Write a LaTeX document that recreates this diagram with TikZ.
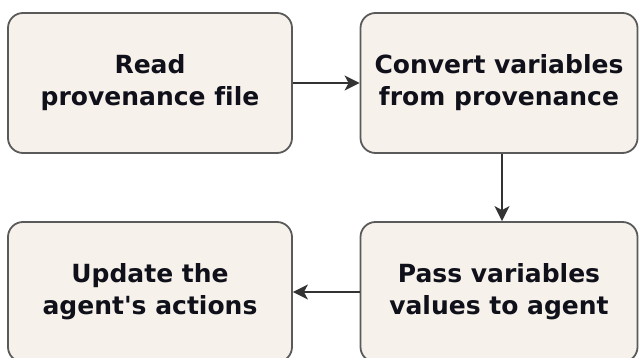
\documentclass[tikz,border=0pt]{standalone}
\usepackage{fontspec}
\setmainfont[Ligatures={NoCommon}]{DejaVu Sans}
\usetikzlibrary{arrows.meta}
\definecolor{boxfill}{HTML}{F6F1EA}
\definecolor{boxline}{HTML}{5A5A5A}
\definecolor{arrowc}{HTML}{333333}
\definecolor{txt}{HTML}{10101A}
\tikzset{
  stepbox/.style={draw=boxline, line width=1.8pt, fill=boxfill, rounded corners=15pt,
    minimum height=140pt, align=center, text=txt, inner sep=0pt,
    font=\fontsize{25}{32}\selectfont\bfseries},
  conn/.style={draw=arrowc, line width=1.8pt, -{Stealth[length=15pt,width=15pt,inset=4pt]}}
}
\begin{document}
\begin{tikzpicture}[x=1pt,y=-1pt]
\useasboundingbox (0,0) rectangle (639,358);
\clip (0,0) rectangle (639,358);
\node[stepbox, minimum width=284pt] (a) at (150,83) {Read\\provenance file};
\node[stepbox, minimum width=277pt] (b) at (499,83) {Convert variables\\from provenance};
\node[stepbox, minimum width=284pt] (d) at (150,292) {Update the\\agent\textquotesingle s actions};
\node[stepbox, minimum width=277pt] (c) at (499,292) {Pass variables\\values to agent};
\draw[conn] (a.east) -- (b.west);
\draw[conn] (b.south -| 502,0) -- (c.north -| 502,0);
\draw[conn] (c.west) -- (d.east);
\end{tikzpicture}
\end{document}
